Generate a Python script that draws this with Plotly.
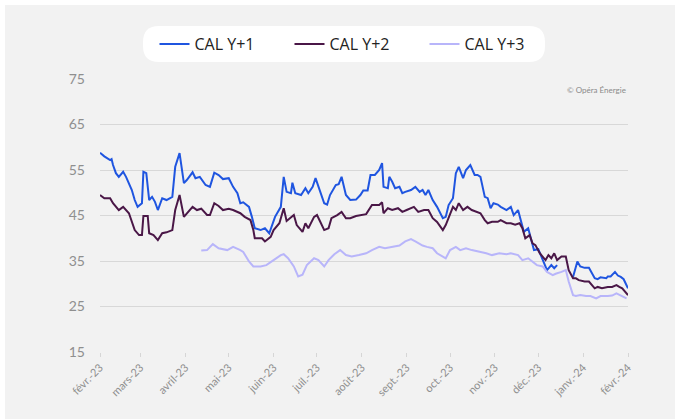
import plotly.graph_objects as go

# ---------------- data ----------------
cal1_dates = ["2023-02-01","2023-02-04","2023-02-08","2023-02-09","2023-02-10","2023-02-12","2023-02-14","2023-02-17","2023-02-19","2023-02-23","2023-02-25","2023-02-27",
"2023-03-02","2023-03-03","2023-03-05","2023-03-07","2023-03-09","2023-03-11","2023-03-13","2023-03-16","2023-03-19","2023-03-23","2023-03-25","2023-03-28","2023-03-31",
"2023-04-02","2023-04-06","2023-04-08","2023-04-11","2023-04-15","2023-04-18","2023-04-21","2023-04-24","2023-04-27",
"2023-05-01","2023-05-04","2023-05-07","2023-05-09","2023-05-11","2023-05-15","2023-05-17","2023-05-19","2023-05-23","2023-05-26","2023-05-29","2023-05-31",
"2023-06-02","2023-06-06","2023-06-08","2023-06-10","2023-06-13","2023-06-14","2023-06-16","2023-06-20","2023-06-23","2023-06-25","2023-06-28","2023-06-30",
"2023-07-02","2023-07-06","2023-07-08","2023-07-10","2023-07-14","2023-07-16","2023-07-18","2023-07-21","2023-07-24","2023-07-28","2023-07-31",
"2023-08-02","2023-08-05","2023-08-07","2023-08-10","2023-08-13","2023-08-15","2023-08-16","2023-08-19","2023-08-20","2023-08-22","2023-08-24","2023-08-27","2023-08-29","2023-08-31",
"2023-09-04","2023-09-07","2023-09-10","2023-09-12","2023-09-14","2023-09-16","2023-09-19","2023-09-22","2023-09-26","2023-09-28","2023-09-30",
"2023-10-03","2023-10-05","2023-10-07","2023-10-10","2023-10-12","2023-10-15","2023-10-18","2023-10-20","2023-10-22","2023-10-25","2023-10-27","2023-10-29","2023-10-31",
"2023-11-03","2023-11-05","2023-11-09","2023-11-12","2023-11-14","2023-11-17","2023-11-19","2023-11-21","2023-11-24","2023-11-26","2023-11-28",
"2023-12-01","2023-12-03","2023-12-05","2023-12-07","2023-12-10","2023-12-12","2023-12-14","2023-12-20","2023-12-25","2023-12-28","2023-12-30",
"2024-01-02","2024-01-05","2024-01-09","2024-01-11","2024-01-13","2024-01-17","2024-01-18","2024-01-20","2024-01-23","2024-01-25","2024-01-27","2024-01-29","2024-02-01"]
cal1_values = [58.8,58.0,57.2,57.4,56.1,54.3,53.5,54.6,53.5,50.6,48.4,46.9,
47.7,54.6,54.3,48.4,49.1,48.0,46.2,48.8,48.4,49.1,55.7,58.7,52.1,
52.8,54.5,53.2,53.5,51.7,51.3,54.4,53.9,53.0,
53.2,51.3,49.9,47.7,47.9,46.9,44.7,42.2,41.8,42.2,41.1,42.9,
44.7,46.9,53.5,50.2,49.9,52.2,49.9,49.5,51.0,49.9,51.3,53.2,
51.3,47.7,47.4,49.5,51.7,51.9,53.5,49.5,48.4,48.5,49.5,
50.5,50.5,53.9,53.9,55.0,56.5,51.3,51.0,53.5,52.4,51.0,51.3,49.9,50.2,
50.6,51.3,50.2,50.6,49.5,50.6,48.4,46.9,44.4,44.7,47.3,
48.8,54.3,55.7,53.2,55.0,56.1,53.9,53.9,53.5,49.1,48.8,46.6,47.7,
47.4,46.9,46.2,46.9,45.1,46.2,44.0,41.4,42.2,39.6,37.4,
37.6,36.0,34.5,33.0,34.1,33.4,34.1,None,31.5,34.9,33.8,
33.5,33.5,31.2,31.0,31.4,31.2,31.6,31.6,32.6,31.8,31.5,31.0,29.0]

cal2_dates = ["2023-02-01","2023-02-04","2023-02-08","2023-02-10","2023-02-14","2023-02-17","2023-02-21","2023-02-23","2023-02-25","2023-02-28",
"2023-03-02","2023-03-03","2023-03-06","2023-03-07","2023-03-10","2023-03-13","2023-03-16","2023-03-19","2023-03-23","2023-03-25","2023-03-28","2023-03-31",
"2023-04-03","2023-04-06","2023-04-09","2023-04-12","2023-04-16","2023-04-18","2023-04-21","2023-04-24","2023-04-27",
"2023-05-01","2023-05-04","2023-05-09","2023-05-12","2023-05-16","2023-05-18","2023-05-19","2023-05-24","2023-05-26","2023-05-30",
"2023-06-01","2023-06-05","2023-06-08","2023-06-10","2023-06-13","2023-06-15","2023-06-17","2023-06-21","2023-06-23","2023-06-25","2023-06-29",
"2023-07-01","2023-07-03","2023-07-06","2023-07-09","2023-07-11","2023-07-15","2023-07-18","2023-07-21","2023-07-24","2023-07-28","2023-07-31",
"2023-08-04","2023-08-08","2023-08-13","2023-08-15","2023-08-16","2023-08-19","2023-08-22","2023-08-26","2023-08-29",
"2023-09-01","2023-09-06","2023-09-09","2023-09-13","2023-09-16","2023-09-19","2023-09-22","2023-09-26","2023-09-28","2023-09-30",
"2023-10-03","2023-10-05","2023-10-07","2023-10-10","2023-10-13","2023-10-16","2023-10-20","2023-10-22","2023-10-25","2023-10-27","2023-10-30",
"2023-11-03","2023-11-05","2023-11-09","2023-11-12","2023-11-15","2023-11-18","2023-11-20","2023-11-22","2023-11-25","2023-11-27","2023-11-29",
"2023-12-02","2023-12-04","2023-12-06","2023-12-08","2023-12-10","2023-12-12","2023-12-14","2023-12-17","2023-12-20","2023-12-22","2023-12-25","2023-12-27","2023-12-29",
"2024-01-02","2024-01-05","2024-01-09","2024-01-11","2024-01-14","2024-01-18","2024-01-21","2024-01-24","2024-01-26","2024-01-28","2024-02-01"]
cal2_values = [49.5,48.8,48.8,47.7,46.2,46.9,45.5,43.6,41.8,40.7,
40.7,44.9,44.9,41.1,40.7,39.6,41.1,41.3,41.8,46.2,49.5,44.7,
45.8,46.9,46.2,46.5,45.1,45.1,47.7,47.1,46.2,
46.5,46.2,45.5,44.7,44.0,41.8,40.0,40.0,39.3,40.3,
41.8,43.3,46.6,43.8,44.5,45.1,42.9,41.4,43.3,42.2,44.7,
45.1,43.8,41.8,42.2,44.4,45.1,45.8,44.4,44.4,44.9,45.1,
45.3,47.3,47.3,47.9,45.5,46.6,46.2,46.6,45.8,
46.2,46.9,45.8,46.2,46.2,44.4,43.6,41.8,42.9,44.4,
46.9,46.2,47.7,46.2,46.9,46.2,45.8,45.5,44.0,43.3,43.6,
43.6,44.0,43.3,43.3,43.0,43.3,42.2,40.0,40.7,38.9,38.5,
36.7,36.0,35.2,36.3,35.6,36.7,35.2,36.0,36.0,33.0,31.2,31.2,30.8,
30.5,30.5,29.0,29.3,29.0,29.3,29.3,29.7,29.3,29.0,27.5]

cal3_dates = ["2023-04-12","2023-04-16","2023-04-20","2023-04-24","2023-04-30",
"2023-05-04","2023-05-09","2023-05-11","2023-05-15","2023-05-18","2023-05-23","2023-05-27",
"2023-06-01","2023-06-06","2023-06-08","2023-06-11","2023-06-15","2023-06-18","2023-06-21","2023-06-24","2023-06-29",
"2023-07-02","2023-07-06","2023-07-09","2023-07-13","2023-07-17","2023-07-21","2023-07-25","2023-07-30",
"2023-08-04","2023-08-08","2023-08-13","2023-08-17","2023-08-22","2023-08-27","2023-08-31",
"2023-09-04","2023-09-07","2023-09-12","2023-09-15","2023-09-19","2023-09-22","2023-09-26","2023-09-28",
"2023-10-01","2023-10-05","2023-10-08","2023-10-12","2023-10-16","2023-10-21","2023-10-26","2023-10-30",
"2023-11-04","2023-11-09","2023-11-12","2023-11-17","2023-11-20","2023-11-24","2023-11-27","2023-11-30",
"2023-12-04","2023-12-07","2023-12-11","2023-12-13","2023-12-17","2023-12-20","2023-12-22","2023-12-25","2023-12-27","2023-12-30",
"2024-01-03","2024-01-06","2024-01-10","2024-01-13","2024-01-18","2024-01-21","2024-01-24","2024-01-27","2024-01-31"]
cal3_values = [37.3,37.4,38.7,37.8,37.4,
38.1,37.4,37.0,34.9,33.8,33.8,34.1,
35.2,36.3,36.5,35.6,33.8,31.6,32.0,34.1,35.6,
35.2,33.8,35.2,36.5,37.4,36.3,36.0,36.3,
36.7,37.4,38.1,37.8,38.1,38.4,39.3,
39.8,39.3,38.4,38.1,37.8,36.7,36.0,35.6,
37.4,38.1,37.4,37.8,37.4,37.1,36.7,36.3,
36.7,36.5,36.7,36.3,35.2,35.6,34.9,34.1,
33.8,32.6,31.9,32.2,32.6,33.0,30.5,27.5,27.3,27.5,
27.3,27.3,26.8,27.3,27.3,27.4,27.9,27.5,26.8]

series_names = ["CAL Y+1", "CAL Y+2", "CAL Y+3"]
series_colors = ["#1f55e0", "#4a1747", "#b8b5fa"]

month_ticks = ["2023-02-01","2023-03-01","2023-04-01","2023-05-01","2023-06-01","2023-07-01",
               "2023-08-01","2023-09-01","2023-10-01","2023-11-01","2023-12-01","2024-01-01","2024-02-01"]
month_labels = ["févr.-23","mars-23","avril-23","mai-23","juin-23","juil.-23","août-23",
                "sept.-23","oct.-23","nov.-23","déc.-23","janv.-24","févr.-24"]
y_ticks = [15, 25, 35, 45, 55, 65, 75]

# ---------------- figure ----------------
W, H = 675, 419
ML, MR, MT, MB = 100, 47, 79, 67
PW, PH = W - ML - MR, H - MT - MB

def px(x):
    return (x - ML) / PW

def py(y):
    return (H - MB - y) / PH

fig = go.Figure()
for name, col, xs, ys in zip(series_names, series_colors,
                             [cal1_dates, cal2_dates, cal3_dates],
                             [cal1_values, cal2_values, cal3_values]):
    fig.add_trace(go.Scatter(x=xs, y=ys, name=name, mode="lines",
                             line=dict(color=col, width=2), connectgaps=False))

# rounded legend background
x0, x1, y0, y1, r = 143, 545, 26, 62, 16
path = (f"M {px(x0+r)} {py(y0)} L {px(x1-r)} {py(y0)} Q {px(x1)} {py(y0)} {px(x1)} {py(y0+r)} "
        f"L {px(x1)} {py(y1-r)} Q {px(x1)} {py(y1)} {px(x1-r)} {py(y1)} "
        f"L {px(x0+r)} {py(y1)} Q {px(x0)} {py(y1)} {px(x0)} {py(y1-r)} "
        f"L {px(x0)} {py(y0+r)} Q {px(x0)} {py(y0)} {px(x0+r)} {py(y0)} Z")

shapes = [
    dict(type="rect", xref="paper", yref="paper", x0=px(5), x1=px(W + 5), y0=py(H + 5), y1=py(5),
         fillcolor="#f2f2f2", line=dict(width=0), layer="below"),
    dict(type="path", xref="paper", yref="paper", path=path,
         fillcolor="#ffffff", line=dict(width=0), layer="below"),
]

fig.update_layout(
    width=W, height=H,
    margin=dict(l=ML, r=MR, t=MT, b=MB, autoexpand=False),
    paper_bgcolor="#ffffff",
    plot_bgcolor="rgba(0,0,0,0)",
    font=dict(family="Lato, sans-serif", color="#8a8a8a"),
    shapes=shapes,
    showlegend=True,
    legend=dict(orientation="h", xanchor="center", yanchor="middle",
                x=px(357), y=py(44), bgcolor="rgba(0,0,0,0)",
                font=dict(family="Open Sans, sans-serif", size=16, color="#222222"),
                entrywidth=90, entrywidthmode="pixels", itemwidth=30,
                traceorder="normal"),
    annotations=[dict(text="© Opéra Énergie", xref="paper", yref="paper",
                      x=1, y=py(90), xanchor="right", yanchor="middle", showarrow=False,
                      font=dict(family="Lato, sans-serif", size=8, color="#8a8a8a"))],
    hovermode=False,
)
fig.update_xaxes(range=["2023-02-01", "2024-02-01"], tickvals=month_ticks, ticktext=month_labels,
                 tickangle=-45, tickfont=dict(size=11, color="#8f8f8f", family="Lato, sans-serif"),
                 showgrid=False, showline=False, zeroline=False,
                 ticks="outside", ticklen=4, tickcolor="#d6d6d6")
fig.update_yaxes(range=[15, 75], tickvals=y_ticks, showgrid=True, gridcolor="#d8d8d8", gridwidth=1,
                 zeroline=False, showline=False, ticks="", ticklabelstandoff=14,
                 tickfont=dict(size=14, color="#8f8f8f", family="Lato, sans-serif"))

fig.write_html("out.html", config={"displayModeBar": False},
               post_script="document.body.style.margin='0';document.body.style.padding='0';")
